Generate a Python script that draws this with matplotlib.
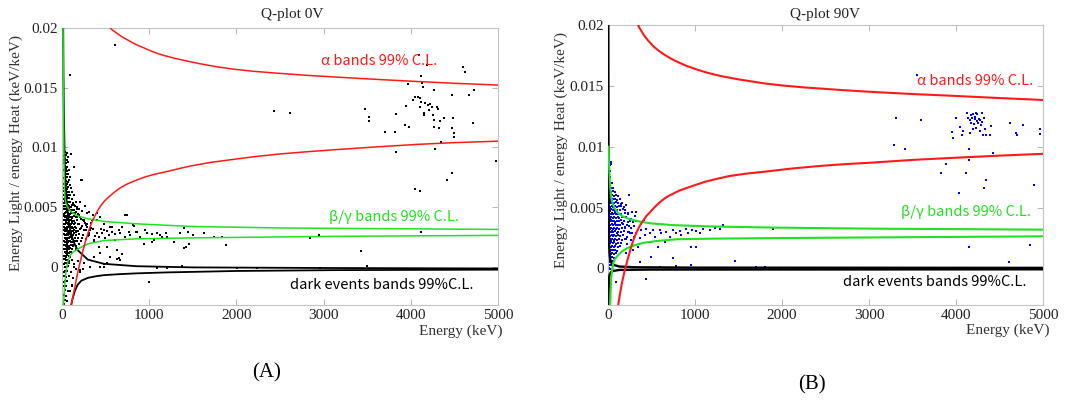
import numpy as np
import matplotlib.pyplot as plt

SERIF = 'Liberation Serif'
SANS = ['Noto Sans CJK JP', 'DejaVu Sans']

RED = '#ff1a1a'
GREEN = '#22e022'

# all curves / events: (energy keV, light/heat in 1e-3 keV/keV)

# ---- panel A : Q-plot 0V ----
a_alpha_hi = [(554, 20.0), (575, 19.85), (600, 19.72), (640, 19.5), (680, 19.3), (720, 19.13), (760, 18.97),
              (822, 18.72), (880, 18.52), (950, 18.3), (1020, 18.08), (1100, 17.85), (1200, 17.64),
              (1300, 17.45), (1440, 17.22), (1587, 17.0), (1770, 16.76), (1969, 16.55), (2200, 16.37),
              (2500, 16.2), (2800, 16.04), (3116, 15.9), (3600, 15.7), (4071, 15.52), (4500, 15.37),
              (5000, 15.22)]
a_alpha_lo = [(108, -3.2), (116, -2.85), (125, -2.5), (136, -2.1), (148, -1.7), (163, -1.1), (180, -0.5),
              (200, 0.15), (222, 0.8), (240, 1.35), (260, 1.9), (278, 2.35), (296, 2.76), (312, 3.13),
              (330, 3.5), (350, 3.85), (370, 4.16), (395, 4.52), (420, 4.85), (450, 5.17), (481, 5.45),
              (520, 5.74), (560, 6.0), (610, 6.3), (666, 6.6), (730, 6.87), (800, 7.1), (880, 7.33),
              (962, 7.55), (1080, 7.78), (1200, 7.97), (1340, 8.22), (1480, 8.45), (1700, 8.74), (1969, 9.0),
              (2200, 9.22), (2500, 9.45), (2800, 9.63), (3116, 9.8), (3600, 10.04), (4071, 10.25),
              (4500, 10.4), (5000, 10.52)]
a_beta_hi = [(12, 20.0), (15, 16.0), (18, 12.5), (21, 10.0), (24, 8.0), (28, 6.5), (35, 5.75), (45, 5.35),
             (55, 5.14), (80, 4.8), (111, 4.58), (150, 4.38), (204, 4.2), (296, 4.02), (481, 3.8), (851, 3.6),
             (1480, 3.38), (2500, 3.25), (5000, 3.13)]
a_beta_lo = [(18, -3.2), (25, -2.2), (35, -1.2), (45, -0.5), (55, 0.0), (70, 0.5), (92, 0.94), (130, 1.25),
             (185, 1.5), (296, 1.92), (481, 2.2), (851, 2.34), (1480, 2.42), (3116, 2.55), (5000, 2.63)]
a_dark_hi = [(14, 20.0), (17, 16.0), (22, 12.8), (30, 9.5), (40, 7.2), (55, 5.3), (70, 4.2), (90, 3.2),
             (120, 2.4), (150, 1.8), (185, 1.36), (296, 0.6), (481, 0.25), (851, 0.05), (1500, -0.05),
             (3000, -0.1), (5000, -0.14)]
a_dark_lo = [(105, -3.2), (120, -2.7), (148, -2.0), (180, -1.5), (222, -1.16), (300, -0.92), (400, -0.78),
             (481, -0.7), (650, -0.62), (851, -0.55), (1200, -0.47), (2000, -0.35), (3116, -0.28),
             (5000, -0.24)]
a_events = [
    (612, 18.54), (88, 16.08), (2428, 13.09), (2619, 12.87), (3479, 13.23), (3517, 12.53), (3525, 12.25),
    (3708, 11.33), (3834, 12.81), (3823, 11.33), (3834, 9.65), (3930, 11.89), (3968, 15.33), (3949, 13.48),
    (3976, 11.75), (4026, 13.99), (4052, 14.26), (4083, 14.21), (4102, 14.12), (4091, 17.76), (4102, 13.42),
    (4117, 13.84), (4117, 16.0), (4129, 15.38), (4140, 15.05), (4148, 12.87), (4156, 12.73), (4167, 13.7),
    (4186, 16.92), (4194, 13.56), (4205, 13.14), (4224, 13.65), (4243, 13.42), (4255, 12.73), (4263, 14.77),
    (4270, 11.69), (4282, 9.85), (4263, 12.31), (4301, 13.42), (4308, 13.2), (4320, 11.61), (4339, 12.25),
    (4350, 10.49), (4377, 12.45), (4415, 7.27), (4473, 11.61), (4473, 7.83), (4484, 12.45), (4492, 10.85),
    (4499, 11.24), (4473, 14.35), (4599, 16.7), (4626, 16.28), (4664, 14.4), (4714, 12.03), (4721, 14.77),
    (4978, 8.87), (4052, 6.49), (4102, 6.38), (4121, 2.94), (3429, 1.31), (3498, 0.06), (2848, 2.43),
    (2944, 2.66), (1835, 2.52), (1885, 1.82), (994, -1.26), (1395, 3.27), (1453, 1.87), (1499, 2.69),
    (1395, 1.57), (1193, 2.8), (1090, 2.8), (1032, 2.1), (956, 3.08), (937, 1.87), (745, 4.34), (822, 3.41),
    (765, 2.94), (631, 1.4), (650, 0.7), (516, 1.62), (459, 2.8), (554, 3.36), (440, 4.2), (401, 4.47),
    (344, 3.92), (229, 7.27), (134, 8.39), (103, 9.45), (325, 0.0), (440, 0.0), (516, 0.28), (2007, -0.14),
    (2236, -0.08), (2963, -0.14), (1204, -0.06), (1376, 0.06), (1090, -0.08),
    (325, 3.08), (363, 2.24), (401, 2.8), (421, 1.68), (478, 3.08), (497, 2.38), (535, 2.66), (573, 2.94),
    (612, 2.24), (669, 2.8), (688, 3.36), (726, 2.52), (784, 2.66), (860, 2.94), (898, 2.52), (975, 2.8),
    (1051, 2.24), (1128, 2.66), (1204, 2.46), (1281, 2.1), (1357, 2.8), (1625, 2.8), (1740, 2.46),
    (440, 1.12), (554, 0.84), (669, 0.56), (248, 0.28), (363, 0.84), (210, -0.28), (478, 0.0),
    (222, 7.3), (315, 4.6), (351, 4.3), (407, 3.9), (444, 3.2), (481, 3.6), (518, 3.0), (574, 3.3),
    (611, 2.76), (648, 3.1), (722, 4.3), (814, 3.46), (851, 2.9), (370, 2.2), (426, 2.5), (296, 2.6),
    (259, 3.04), (252, 3.9), (278, 3.46), (333, 3.26), (481, 0.24), (629, 0.66), (685, 1.08), (1036, 2.76),
    (1147, 2.5), (1425, 1.64), (1443, 2.9),
    (135, 2.85), (150, 3.35), (165, 2.95), (172, 4.2), (188, 3.6), (205, 3.2), (215, 4.0), (228, 3.45),
    (240, 2.7), (255, 3.8), (270, 3.1), (290, 3.55), (310, 2.85), (330, 3.7), (350, 3.2), (375, 2.6),
    (130, 1.7), (145, 2.2), (160, 1.5), (185, 2.4), (195, 1.9), (220, 2.2), (250, 1.7), (280, 2.3),
    (140, 5.2), (155, 4.6), (175, 5.0), (195, 4.35), (210, 5.4), (235, 4.7), (260, 5.1), (285, 4.5),
    (60, 1.05), (85, 0.5), (95, 1.2), (105, -0.4), (120, 0.6), (140, 0.2), (75, -0.8), (90, -2.0),
    (110, -1.6), (130, -0.9), (160, -0.2), (180, 0.5), (210, -0.4), (240, -0.2),
]
a_core = [
    (30, 9.62), (52, 9.55), (24, 9.28), (41, 9.35), (66, 9.22), (35, 9.04), (58, 8.95), (28, 8.98),
    (47, 8.72), (22, 8.66), (72, 8.75), (31, 8.42), (55, 8.36), (40, 8.47), (26, 8.12), (63, 8.05),
    (45, 8.15), (85, 8.08), (36, 7.82), (52, 7.76), (29, 7.85), (70, 7.79), (42, 7.52), (24, 7.46),
    (60, 7.55), (95, 7.48), (33, 7.44), (50, 7.22), (30, 7.15), (78, 7.25), (38, 7.18), (66, 7.12),
    (27, 6.92), (45, 6.86), (58, 6.95), (88, 6.88), (35, 6.83), (40, 6.62), (22, 6.58), (70, 6.66),
    (52, 6.55), (105, 6.61), (31, 6.68), (34, 6.32), (60, 6.27), (46, 6.35), (82, 6.24), (25, 6.38),
    (120, 6.3), (28, 6.02), (50, 5.96), (39, 6.06), (68, 5.98), (95, 6.04), (58, 5.92), (140, 6.0),
    (36, 5.72), (22, 5.66), (62, 5.75), (45, 5.68), (80, 5.74), (110, 5.65), (54, 5.78), (30, 5.7),
    (42, 5.42), (26, 5.36), (70, 5.45), (55, 5.38), (90, 5.44), (130, 5.35), (34, 5.47), (160, 5.4),
    (48, 5.33), (30, 5.12), (48, 5.06), (64, 5.15), (38, 5.08), (85, 5.13), (102, 5.04), (57, 5.17),
    (24, 5.1), (150, 5.06), (120, 5.14), (75, 5.02), (35, 4.82), (52, 4.76), (28, 4.85), (68, 4.78),
    (44, 4.84), (95, 4.75), (80, 4.86), (115, 4.79), (60, 4.74), (170, 4.83), (138, 4.77), (200, 4.8),
    (40, 4.52), (25, 4.46), (58, 4.55), (72, 4.48), (33, 4.54), (88, 4.44), (50, 4.57), (105, 4.5),
    (125, 4.47), (64, 4.43), (150, 4.53), (185, 4.46), (98, 4.56), (30, 4.22), (46, 4.16), (62, 4.25),
    (38, 4.18), (78, 4.24), (55, 4.14), (92, 4.21), (110, 4.17), (22, 4.26), (70, 4.13), (135, 4.23),
    (160, 4.15), (85, 4.27), (210, 4.2), (120, 4.12), (34, 3.92), (50, 3.86), (27, 3.95), (66, 3.88),
    (42, 3.94), (82, 3.84), (58, 3.97), (98, 3.9), (115, 3.85), (74, 3.93), (140, 3.87), (175, 3.95),
    (128, 3.83), (90, 3.96), (240, 3.9), (38, 3.62), (24, 3.56), (54, 3.65), (70, 3.58), (46, 3.64),
    (86, 3.54), (62, 3.67), (102, 3.6), (30, 3.55), (120, 3.63), (78, 3.57), (150, 3.66), (95, 3.53),
    (190, 3.61), (135, 3.58), (260, 3.64), (28, 3.32), (44, 3.26), (60, 3.35), (36, 3.28), (76, 3.34),
    (52, 3.24), (92, 3.37), (68, 3.3), (110, 3.25), (84, 3.33), (130, 3.27), (100, 3.36), (165, 3.29),
    (145, 3.34), (220, 3.26), (118, 3.31), (290, 3.3), (33, 3.02), (48, 2.96), (22, 3.05), (64, 2.98),
    (40, 3.04), (80, 2.94), (56, 3.07), (96, 3.0), (72, 2.95), (115, 3.03), (88, 2.97), (140, 3.06),
    (105, 2.93), (180, 3.01), (125, 2.98), (250, 3.04), (158, 2.96), (26, 2.72), (42, 2.66), (58, 2.75),
    (36, 2.68), (74, 2.74), (50, 2.64), (90, 2.77), (66, 2.7), (108, 2.65), (82, 2.73), (130, 2.67),
    (98, 2.76), (160, 2.69), (200, 2.71), (120, 2.63), (310, 2.7), (30, 2.42), (46, 2.36), (62, 2.45),
    (38, 2.38), (78, 2.44), (54, 2.34), (94, 2.47), (70, 2.4), (115, 2.35), (86, 2.43), (145, 2.37),
    (105, 2.46), (185, 2.39), (230, 2.41), (25, 2.12), (40, 2.06), (56, 2.15), (34, 2.08), (72, 2.14),
    (48, 2.04), (88, 2.17), (64, 2.1), (110, 2.05), (80, 2.13), (135, 2.07), (170, 2.16), (100, 2.09),
    (32, 1.82), (48, 1.76), (28, 1.85), (62, 1.78), (44, 1.84), (80, 1.74), (56, 1.87), (98, 1.8),
    (72, 1.75), (125, 1.83), (155, 1.77), (36, 1.52), (24, 1.46), (52, 1.55), (42, 1.48), (68, 1.54),
    (58, 1.44), (90, 1.57), (76, 1.5), (115, 1.45), (30, 1.22), (46, 1.16), (38, 1.25), (62, 1.18),
    (54, 1.24), (85, 1.14), (105, 1.2), (26, 0.92), (42, 0.86), (58, 0.95), (35, 0.88), (75, 0.94),
    (95, 0.85), (33, 0.62), (50, 0.56), (28, 0.65), (66, 0.58), (120, 0.6), (40, 0.32), (24, 0.26),
    (56, 0.35), (85, 0.28), (30, 0.02), (48, -0.04), (70, 0.05), (140, -0.02), (36, -0.38), (22, -0.44),
    (60, -0.35), (100, -0.42), (28, -0.78), (45, -0.84), (80, -0.75), (34, -1.18), (20, -1.24), (58, -1.15),
    (26, -1.58), (42, -1.64), (110, -1.55), (32, -1.98), (65, -2.04), (24, -2.38), (46, -2.44), (30, -2.78),
    (55, -2.84), (20, -3.08),
]

# ---- panel B : Q-plot 90V ----
b_alpha_hi = [(345, 20.0), (360, 19.78), (380, 19.55), (405, 19.25), (430, 19.0), (460, 18.73), (490, 18.5),
              (520, 18.27), (555, 18.05), (600, 17.8), (650, 17.55), (700, 17.34), (747, 17.15), (820, 16.9),
              (900, 16.65), (1010, 16.37), (1130, 16.1), (1300, 15.8), (1513, 15.52), (1800, 15.2),
              (2050, 15.0), (2279, 14.86), (2700, 14.65), (3046, 14.5), (3500, 14.33), (4003, 14.17),
              (4500, 14.0), (5000, 13.84)]
b_alpha_lo = [(118, -3.0), (128, -2.5), (140, -2.0), (150, -1.6), (160, -1.2), (172, -0.8), (185, -0.4),
              (197, 0.0), (210, 0.3), (225, 0.72), (240, 1.1), (262, 1.65), (290, 2.3), (320, 2.85),
              (350, 3.3), (378, 3.65), (405, 3.95), (440, 4.3), (480, 4.6), (520, 4.92), (560, 5.2),
              (605, 5.5), (650, 5.75), (700, 5.97), (750, 6.15), (820, 6.4), (900, 6.6), (1000, 6.85),
              (1130, 7.15), (1260, 7.38), (1400, 7.6), (1600, 7.8), (1800, 7.95), (2100, 8.2), (2400, 8.4),
              (2700, 8.56), (3046, 8.7), (3500, 8.92), (4003, 9.1), (4500, 9.27), (5000, 9.42)]
b_beta_hi = [(7, 10.0), (9, 9.3), (12, 8.5), (19, 7.5), (28, 6.5), (38, 5.8), (55, 5.3), (77, 4.95),
             (110, 4.6), (172, 4.26), (250, 4.05), (364, 3.85), (500, 3.7), (747, 3.56), (1200, 3.45),
             (1896, 3.36), (3046, 3.27), (5000, 3.19)]
b_beta_lo = [(25, -3.0), (32, -1.5), (40, -0.5), (50, 0.0), (61, 0.41), (80, 0.8), (118, 1.1), (160, 1.4),
             (215, 1.65), (300, 1.9), (402, 2.1), (550, 2.25), (790, 2.4), (1200, 2.45), (2000, 2.5),
             (3046, 2.55), (5000, 2.64)]
b_dark_hi = [(4, 20.0), (5, 14.0), (6, 9.0), (8, 5.0), (10, 3.2), (13, 2.0), (17, 1.3), (22, 0.9), (30, 0.6),
             (45, 0.4), (70, 0.28), (130, 0.16), (300, 0.1), (1000, 0.07), (5000, 0.05)]
b_dark_lo = [(5, -3.0), (7, -2.0), (9, -1.3), (12, -0.85), (16, -0.6), (22, -0.45), (35, -0.3), (60, -0.2),
             (130, -0.12), (500, -0.09), (5000, -0.07)]
b_events = [
    (3555, 15.87), (3306, 12.32), (3594, 12.19), (3283, 10.18), (3417, 9.85), (3823, 7.84), (3881, 8.58),
    (3958, 11.2), (3965, 10.73), (3996, 12.38), (4034, 6.24), (4042, 11.64), (4072, 11.0), (4080, 11.28),
    (4118, 7.84), (4130, 12.79), (4149, 8.94), (4149, 9.85), (4149, 1.79),
    (4138, 12.38), (4157, 12.19), (4168, 12.57), (4176, 11.97), (4187, 12.32), (4195, 12.65), (4203, 11.83),
    (4214, 12.24), (4222, 12.46), (4229, 11.55), (4237, 12.08), (4245, 12.68), (4252, 11.91), (4264, 12.3),
    (4272, 11.28), (4279, 12.16), (4287, 11.75), (4295, 12.79), (4302, 12.02), (4310, 10.98), (4321, 12.35),
    (4333, 11.42), (4340, 11.0), (4195, 11.42), (4164, 11.14), (4233, 12.79),
    (4349, 7.29), (4318, 6.6), (4406, 11.69), (4425, 9.49), (4394, 11.0), (4624, 11.97), (4693, 11.09),
    (4705, 10.95), (4770, 11.75), (4961, 11.42), (4961, 11.06), (4896, 6.88), (4854, 1.93), (4605, 0.55),
    (3314, 0.08), (1896, 3.22), (1456, 0.63), (1801, 0.14), (1705, 0.14), (1973, 0.08), (958, 0.28),
    (778, 0.22), (601, 0.14), (433, -0.88), (1015, 1.79), (950, 1.73), (1322, 3.58), (1283, 3.22),
    (1226, 3.3), (1168, 3.16), (1092, 3.22), (1054, 2.89), (1015, 3.08), (969, 3.16), (919, 2.89),
    (900, 3.22), (843, 2.75), (824, 3.11), (785, 2.89), (747, 3.16), (709, 2.61), (670, 3.03), (651, 2.2),
    (613, 2.89), (594, 3.16), (575, 1.79), (536, 2.56), (517, 3.16), (498, 2.2), (479, 2.89), (441, 3.22),
    (421, 2.75), (410, 3.99), (383, 3.16), (364, 2.48), (345, 1.79), (326, 4.68), (318, 2.89), (287, 3.85),
    (268, 2.34), (241, 6.05), (203, 1.24), (230, 4.54), (364, 0.55), (498, 0.96), (747, 0.83), (96, -1.1),
    (153, 5.31), (203, 4.26), (142, 3.6), (165, 3.75), (200, 3.4), (225, 3.0), (240, 3.5), (190, 2.4),
    (215, 2.6), (260, 4.1), (280, 2.9), (300, 3.5), (255, 1.8), (205, 5.2), (235, 3.8), (262, 3.3),
    (275, 4.6), (302, 2.6), (322, 3.9), (250, 2.9), (220, 2.0), (285, 1.5), (310, 4.3),
]
b_core = [
    (14, 8.82), (30, 8.76), (22, 8.48), (40, 8.55), (18, 8.02), (26, 7.52), (12, 7.44), (35, 7.02),
    (20, 6.95), (50, 7.06), (15, 6.62), (28, 6.56), (42, 6.65), (62, 6.58), (22, 6.32), (36, 6.26),
    (55, 6.35), (80, 6.28), (10, 6.34), (18, 6.02), (30, 5.96), (46, 6.05), (68, 5.98), (95, 6.04),
    (120, 5.95), (12, 5.72), (25, 5.66), (40, 5.75), (58, 5.68), (78, 5.74), (105, 5.65), (140, 5.71),
    (20, 5.42), (34, 5.36), (50, 5.45), (66, 5.38), (88, 5.44), (115, 5.35), (160, 5.41), (8, 5.37),
    (15, 5.12), (28, 5.06), (44, 5.15), (60, 5.08), (76, 5.14), (98, 5.04), (125, 5.11), (180, 5.07),
    (150, 5.16), (10, 4.82), (22, 4.76), (38, 4.85), (54, 4.78), (70, 4.84), (86, 4.74), (108, 4.81),
    (135, 4.77), (170, 4.86), (200, 4.79), (16, 4.52), (30, 4.46), (46, 4.55), (62, 4.48), (80, 4.54),
    (95, 4.44), (118, 4.51), (145, 4.47), (190, 4.56), (230, 4.49), (12, 4.22), (24, 4.16), (40, 4.25),
    (56, 4.18), (72, 4.24), (90, 4.14), (110, 4.21), (130, 4.17), (160, 4.26), (210, 4.19), (8, 3.92),
    (20, 3.86), (34, 3.95), (50, 3.88), (66, 3.94), (84, 3.84), (100, 3.91), (122, 3.87), (150, 3.96),
    (180, 3.89), (250, 3.93), (14, 3.62), (28, 3.56), (44, 3.65), (60, 3.58), (76, 3.64), (94, 3.54),
    (115, 3.61), (140, 3.57), (170, 3.66), (220, 3.59), (10, 3.32), (22, 3.26), (38, 3.35), (54, 3.28),
    (70, 3.34), (88, 3.24), (106, 3.31), (128, 3.27), (160, 3.36), (195, 3.29), (16, 3.02), (30, 2.96),
    (46, 3.05), (62, 2.98), (80, 3.04), (98, 2.94), (120, 3.01), (150, 2.97), (185, 3.06), (240, 2.99),
    (12, 2.72), (26, 2.66), (42, 2.75), (58, 2.68), (74, 2.74), (92, 2.64), (112, 2.71), (140, 2.67),
    (175, 2.76), (18, 2.42), (34, 2.36), (50, 2.45), (66, 2.38), (84, 2.44), (104, 2.34), (130, 2.41),
    (160, 2.37), (210, 2.46), (10, 2.12), (24, 2.06), (40, 2.15), (56, 2.08), (74, 2.14), (95, 2.04),
    (120, 2.11), (150, 2.07), (16, 1.82), (30, 1.76), (46, 1.85), (64, 1.78), (85, 1.84), (110, 1.74),
    (140, 1.81), (12, 1.52), (26, 1.46), (40, 1.55), (58, 1.48), (80, 1.54), (105, 1.44), (18, 1.22),
    (34, 1.16), (50, 1.25), (72, 1.18), (95, 1.24), (14, 0.92), (28, 0.86), (44, 0.95), (65, 0.88),
    (10, 0.62), (22, 0.56), (38, 0.65), (55, 0.58), (16, 0.32), (30, 0.26), (48, 0.35), (12, 0.02),
    (25, -0.04), (18, -0.48), (35, -0.54), (14, -0.98), (22, -1.52),
]

titles = ['Q-plot 0V', 'Q-plot 90V']
captions = ['(A)', '(B)']
ylabel = 'Energy Light / energy Heat (keV/keV)'
xlabel = 'Energy (keV)'


def xy(pts):
    a = np.array(pts, dtype=float)
    return a[:, 0], a[:, 1] * 1e-3


fig = plt.figure(figsize=(10.77, 4.07), dpi=100)
axA = fig.add_axes([62 / 1077, 102 / 407, 436 / 1077, 277 / 407])
axB = fig.add_axes([608 / 1077, 102 / 407, 435 / 1077, 280 / 407])

panels = [
    (axA, a_events, a_core, 'black', a_dark_hi, a_dark_lo, a_beta_hi, a_beta_lo, a_alpha_hi, a_alpha_lo,
     -0.0032, 1.1),
    (axB, b_events, b_core, '#0000ff', b_dark_hi, b_dark_lo, b_beta_hi, b_beta_lo, b_alpha_hi, b_alpha_lo,
     -0.003, 1.5),
]

for i, (ax, ev, core, col, dh, dl, bh, bl, ah, al, ymin, lw) in enumerate(panels):
    ax.scatter(*xy(ev), s=3.5, marker='s', color=col, linewidths=0, zorder=2)
    ax.scatter(*xy(core), s=4.5, marker='s', color=col, linewidths=0, zorder=2)
    for pts in (dh, dl):
        ax.plot(*xy(pts), color='black', lw=lw + 0.2, zorder=3)
    for pts in (bh, bl):
        ax.plot(*xy(pts), color=GREEN, lw=lw, zorder=4)
    for pts in (ah, al):
        ax.plot(*xy(pts), color=RED, lw=lw, zorder=5)

    ax.set_xlim(0, 5000)
    ax.set_ylim(ymin, 0.02)
    ax.set_xticks([0, 1000, 2000, 3000, 4000, 5000])
    ax.set_xticklabels(['0', '1000', '2000', '3000', '4000', '5000'])
    ax.set_yticks([0, 0.005, 0.01, 0.015, 0.02])
    ax.set_yticklabels(['0', '0.005', '0.01', '0.015', '0.02'])
    for lab in ax.get_xticklabels() + ax.get_yticklabels():
        lab.set_family(SERIF)
        lab.set_fontsize(11)
        lab.set_color('#222222')
    ax.tick_params(direction='in', length=4, width=0.6, color='#aaaaaa', top=True, right=True, pad=3)
    for s in ax.spines.values():
        s.set_color('#c4c4c4')
        s.set_linewidth(0.8)

    ax.text(0.5 if i else 0.527, 1.036 if i else 1.047, titles[i], transform=ax.transAxes,
            ha='center', va='center', family=SERIF, fontsize=11, color='#222222')
    ax.text(1.016 if i else 1.011, -0.089 if i else -0.094, xlabel, transform=ax.transAxes,
            ha='right', va='center', family=SERIF, fontsize=11, color='#333333')
    ax.text(-0.108 if i else -0.1055, 0.554 if i else 0.549, ylabel, transform=ax.transAxes,
            rotation=90, ha='center', va='center', family=SERIF, fontsize=11, color='#333333')

# band labels
axA.text(4300, 0.0172, 'α bands 99% C.L.', color=RED, ha='right', va='center', family=SANS, fontsize=10.5)
axA.text(4549, 0.0042, 'β/γ bands 99% C.L.', color=GREEN, ha='right', va='center', family=SANS, fontsize=10.5)
axA.text(4721, -0.00154, 'dark events bands 99%C.L.', color='black', ha='right', va='center',
         family=SANS, fontsize=10.5)
axB.text(4885, 0.0154, 'α bands 99% C.L.', color=RED, ha='right', va='center', family=SANS, fontsize=10.5)
axB.text(4865, 0.00468, 'β/γ bands 99% C.L.', color=GREEN, ha='right', va='center', family=SANS, fontsize=10.5)
axB.text(4808, -0.0011, 'dark events bands 99%C.L.', color='black', ha='right', va='center',
         family=SANS, fontsize=10.5)

fig.text(267 / 1077, 1 - 373 / 407, captions[0], ha='center', va='center', family=SERIF, fontsize=15)
fig.text(812 / 1077, 1 - 385 / 407, captions[1], ha='center', va='center', family=SERIF, fontsize=15)

fig.savefig('out.png', dpi=100)
